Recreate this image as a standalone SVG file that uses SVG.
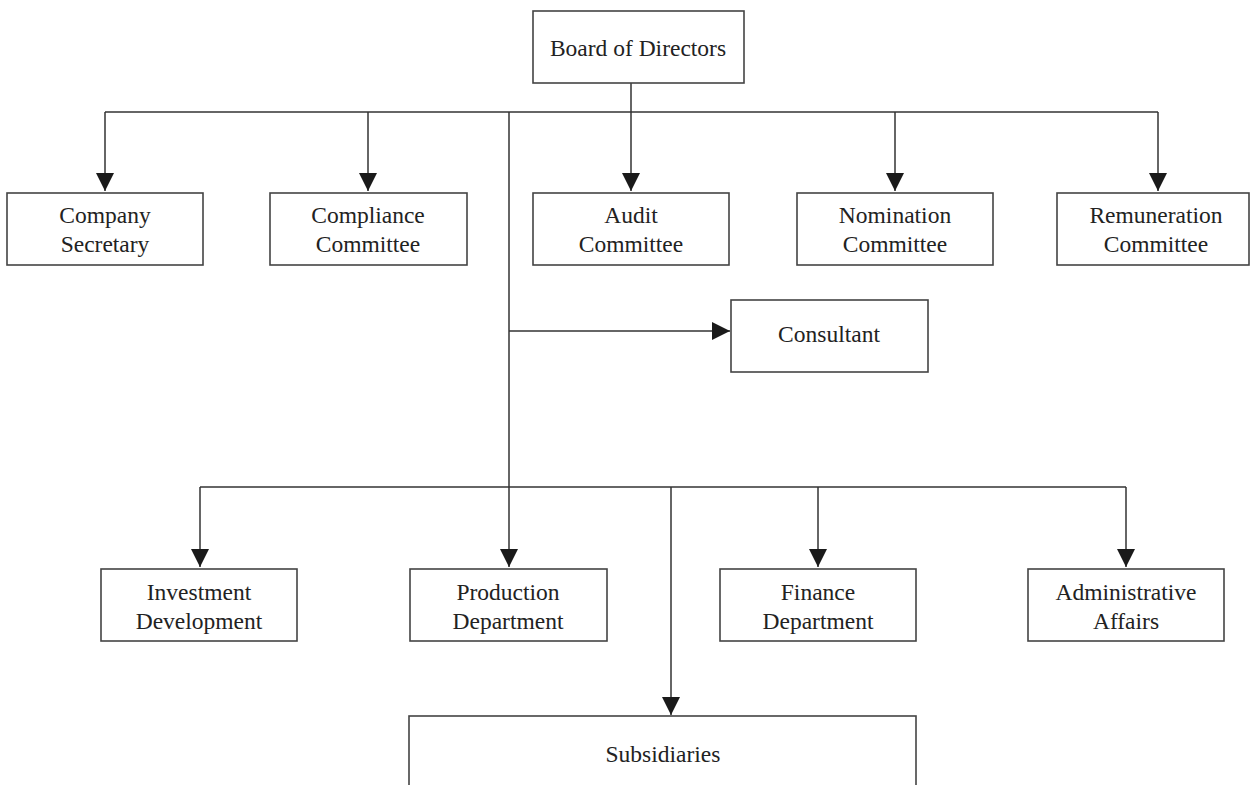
<svg xmlns="http://www.w3.org/2000/svg" width="1250" height="785" viewBox="0 0 1250 785">
<style>
.box{fill:#fff;stroke:#444;stroke-width:1.6}
.lbl{font-family:"Liberation Serif","Times New Roman",serif;font-size:23.5px;fill:#222;text-anchor:middle}
.ln{fill:none;stroke:#333;stroke-width:1.5}
</style>
<defs>
<marker id="arr" markerUnits="userSpaceOnUse" markerWidth="18" markerHeight="18" viewBox="0 0 18 18" refX="18" refY="9" orient="auto">
<path d="M0,0 L18,9 L0,18 Z" fill="#1a1a1a"/>
</marker>
</defs>
<rect width="1250" height="785" fill="#fff"/>
<g id="connectors">
<line class="ln" x1="631" y1="83" x2="631" y2="191" marker-end="url(#arr)"/>
<line class="ln" x1="105" y1="112" x2="1158" y2="112"/>
<line class="ln" x1="105" y1="112" x2="105" y2="191" marker-end="url(#arr)"/>
<line class="ln" x1="368" y1="112" x2="368" y2="191" marker-end="url(#arr)"/>
<line class="ln" x1="895" y1="112" x2="895" y2="191" marker-end="url(#arr)"/>
<line class="ln" x1="1158" y1="112" x2="1158" y2="191" marker-end="url(#arr)"/>
<line class="ln" x1="509" y1="112" x2="509" y2="567" marker-end="url(#arr)"/>
<line class="ln" x1="509" y1="331" x2="730" y2="331" marker-end="url(#arr)"/>
<line class="ln" x1="200" y1="487" x2="1126" y2="487"/>
<line class="ln" x1="200" y1="487" x2="200" y2="567" marker-end="url(#arr)"/>
<line class="ln" x1="818" y1="487" x2="818" y2="567" marker-end="url(#arr)"/>
<line class="ln" x1="1126" y1="487" x2="1126" y2="567" marker-end="url(#arr)"/>
<line class="ln" x1="671" y1="487" x2="671" y2="715" marker-end="url(#arr)"/>
</g>
<g id="board"><rect class="box" x="533" y="11" width="211" height="72"/><text class="lbl" x="638" y="56">Board of Directors</text></g>
<g id="company-secretary"><rect class="box" x="7" y="193" width="196" height="72"/><text class="lbl" x="105" y="223">Company</text><text class="lbl" x="105" y="252">Secretary</text></g>
<g id="compliance"><rect class="box" x="270" y="193" width="197" height="72"/><text class="lbl" x="368" y="223">Compliance</text><text class="lbl" x="368" y="252">Committee</text></g>
<g id="audit"><rect class="box" x="533" y="193" width="196" height="72"/><text class="lbl" x="631" y="223">Audit</text><text class="lbl" x="631" y="252">Committee</text></g>
<g id="nomination"><rect class="box" x="797" y="193" width="196" height="72"/><text class="lbl" x="895" y="223">Nomination</text><text class="lbl" x="895" y="252">Committee</text></g>
<g id="remuneration"><rect class="box" x="1057" y="193" width="192" height="72"/><text class="lbl" x="1156" y="223">Remuneration</text><text class="lbl" x="1156" y="252">Committee</text></g>
<g id="consultant"><rect class="box" x="731" y="300" width="197" height="72"/><text class="lbl" x="829" y="342">Consultant</text></g>
<g id="investment"><rect class="box" x="101" y="569" width="196" height="72"/><text class="lbl" x="199" y="600">Investment</text><text class="lbl" x="199" y="629">Development</text></g>
<g id="production"><rect class="box" x="410" y="569" width="197" height="72"/><text class="lbl" x="508" y="600">Production</text><text class="lbl" x="508" y="629">Department</text></g>
<g id="finance"><rect class="box" x="720" y="569" width="196" height="72"/><text class="lbl" x="818" y="600">Finance</text><text class="lbl" x="818" y="629">Department</text></g>
<g id="administrative"><rect class="box" x="1028" y="569" width="196" height="72"/><text class="lbl" x="1126" y="600">Administrative</text><text class="lbl" x="1126" y="629">Affairs</text></g>
<g id="subsidiaries"><rect class="box" x="409" y="716" width="507" height="90"/><text class="lbl" x="663" y="762">Subsidiaries</text></g>
</svg>
